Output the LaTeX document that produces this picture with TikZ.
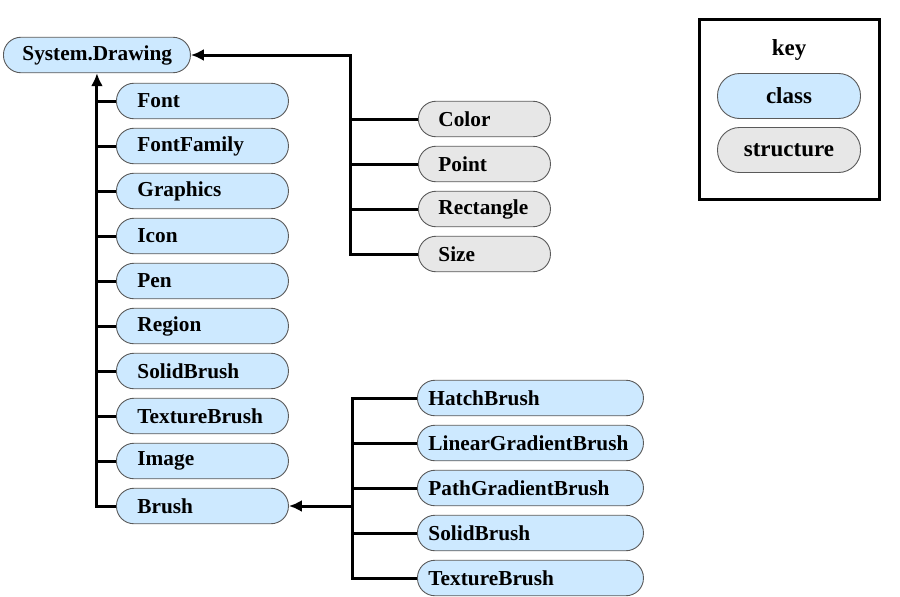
\documentclass[tikz,border=0pt]{standalone}
\usepackage{fontspec}
\setmainfont{Liberation Serif}
\usetikzlibrary{arrows.meta}
\definecolor{clsfill}{HTML}{CDE9FF}
\definecolor{stfill}{HTML}{E7E7E7}
\definecolor{bord}{HTML}{5A5A5A}
\tikzset{
  pill/.style={draw=bord, line width=0.9pt, rounded corners=17.5pt, minimum height=35.5pt,
     font=\fontsize{21.3}{24}\selectfont\bfseries, align=left, inner ysep=0pt},
  cls/.style={pill, fill=clsfill},
  stc/.style={pill, fill=stfill},
  leftcol/.style={cls, anchor=west, inner xsep=21pt, text width=130pt},
  stcol/.style={stc, anchor=west, inner xsep=20pt, text width=92pt},
  brcol/.style={cls, anchor=west, inner xsep=11pt, text width=204pt},
  keyfont/.style={font=\fontsize{23}{26}\selectfont\bfseries},
  conn/.style={line width=3pt},
  arr/.style={conn, -{Latex[length=13pt,width=12pt]}},
}
\begin{document}
\begin{tikzpicture}[x=1pt,y=-1pt]
\useasboundingbox (0,0) rectangle (900,597);
% root
\node[cls, anchor=west, inner xsep=19pt, text width=149pt] (sd) at (3,55) {System.Drawing};
% left column
\node[leftcol] (font) at (116,101) {Font};
\node[leftcol] (ffam) at (116,146) {FontFamily};
\node[leftcol] (gfx) at (116,191) {Graphics};
\node[leftcol] (icon) at (116,236) {Icon};
\node[leftcol] (pen) at (116,281) {Pen};
\node[leftcol] (reg) at (116,326) {Region};
\node[leftcol] (sb) at (116,371) {SolidBrush};
\node[leftcol] (tb) at (116,416) {TextureBrush};
\node[leftcol] (img) at (116,461) {Image};
\node[leftcol] (brush) at (116,506) {Brush};
% structures
\node[stcol] (color) at (418,119) {Color};
\node[stcol] (point) at (418,164) {Point};
\node[stcol] (rect) at (418,209) {Rectangle};
\node[stcol] (size) at (418,254) {Size};
% brush subclasses
\node[brcol] (hb) at (417,398) {HatchBrush};
\node[brcol] (lgb) at (417,443) {LinearGradientBrush};
\node[brcol] (pgb) at (417,488) {PathGradientBrush};
\node[brcol] (sb2) at (417,533) {SolidBrush};
\node[brcol] (tb2) at (417,578) {TextureBrush};
% key
\node[draw=black, line width=3pt, minimum width=180pt, minimum height=180pt, anchor=north west, inner sep=0pt] (keybox) at (698,18) {};
\node[keyfont] (keyt) at (789,50) {key};
\node[cls, keyfont, minimum width=143pt, minimum height=45pt, rounded corners=22pt] (kcls) at (789,96) {class};
\node[stc, keyfont, minimum width=143pt, minimum height=45pt, rounded corners=22pt] (kst) at (789,150) {structure};
% connectors: left trunk
\coordinate (lt) at (sd.south);
\foreach \n in {font,ffam,gfx,icon,pen,reg,sb,tb,img}
  \draw[conn] (\n.west) -- (\n.west -| lt);
\draw[arr] (brush.west) -| (lt);
% structures trunk
\coordinate (st) at (350,55);
\foreach \n in {color,point,rect}
  \draw[conn] (\n.west) -- (\n.west -| st);
\draw[arr] (size.west) -| (st) -- (sd.east);
% brush trunk
\coordinate (bt) at (352,506);
\foreach \n in {lgb,pgb,sb2}
  \draw[conn] (\n.west) -- (\n.west -| bt);
\draw[conn] (hb.west) -- (hb.west -| bt) -- (tb2.west -| bt) -- (tb2.west);
\draw[arr] (bt) -- (brush.east);
\end{tikzpicture}
\end{document}
